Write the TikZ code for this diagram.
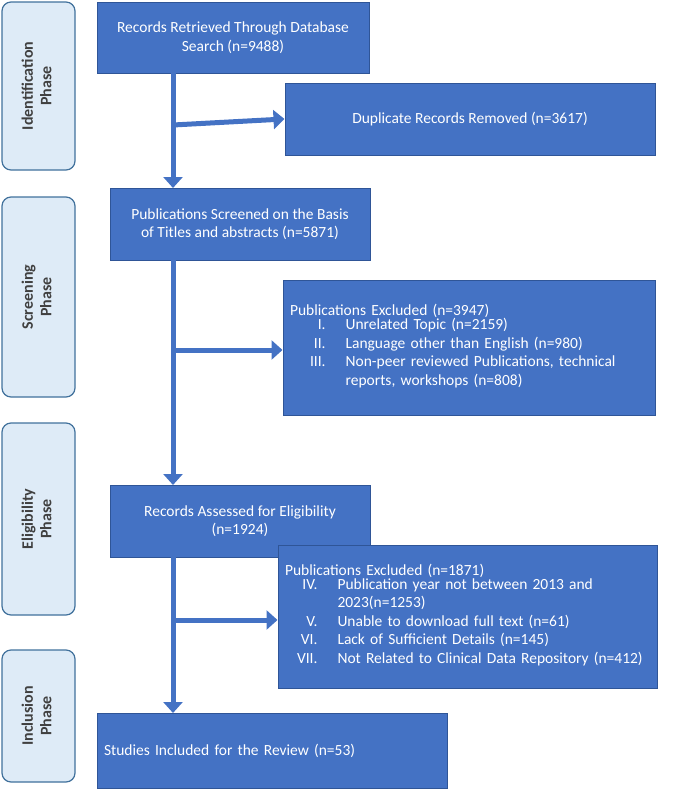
\documentclass[tikz,border=0pt]{standalone}
\usepackage{fontspec}
\setmainfont{Carlito}
\usetikzlibrary{arrows.meta}
\definecolor{bb}{HTML}{4472C4}
\definecolor{bd}{HTML}{2F5597}
\definecolor{pf}{HTML}{DEEBF7}
\definecolor{pd}{HTML}{41719C}
\begin{document}
\begin{tikzpicture}[x=1pt,y=-1pt,
 box/.style={draw=bd,line width=1pt,fill=bb,text=white,font=\fontsize{15.5}{18.5}\selectfont,align=center,inner sep=3pt},
 phase/.style={draw=pd,line width=1.2pt,fill=pf,rounded corners=9pt,font=\bfseries\fontsize{16}{18.5}\selectfont,text=black!75,align=center},
 arr/.style={draw=bb,line width=5pt,-{Triangle[length=11pt,width=19pt]}}]
\useasboundingbox (0,0) rectangle (685,790);
\node[phase,minimum width=73,minimum height=168] (p1) at (38.5,86) {\rotatebox{90}{\begin{tabular}{c}Identification\\Phase\end{tabular}}};
\node[phase,minimum width=73,minimum height=200] (p2) at (38.5,297) {\rotatebox{90}{\begin{tabular}{c}Screening\\Phase\end{tabular}}};
\node[phase,minimum width=73,minimum height=192] (p3) at (38.5,519) {\rotatebox{90}{\begin{tabular}{c}Eligibility\\Phase\end{tabular}}};
\node[phase,minimum width=73,minimum height=132] (p4) at (38.5,716) {\rotatebox{90}{\begin{tabular}{c}Inclusion\\Phase\end{tabular}}};

\node[box,minimum width=272,minimum height=71] (b1) at (233,37.5) {Records Retrieved Through Database\\Search (n=9488)};
\node[box,minimum width=370,minimum height=72] (b2) at (470,119) {Duplicate Records Removed (n=3617)};
\node[box,minimum width=260,minimum height=72] (b3) at (240,224) {Publications Screened on the Basis\\of Titles and abstracts (n=5871)};
\node[box,minimum width=372,minimum height=135,text width=358,align=left] (b4) at (469,347.5) {Publications Excluded (n=3947)\\[-2pt]
\begin{tabular}{@{\hspace{20pt}}r@{\hspace{20pt}}l@{}}
I. & Unrelated Topic (n=2159)\\
II. & Language other than English (n=980)\\
III. & Non-peer reviewed Publications, technical\\
 & reports, workshops (n=808)
\end{tabular}};
\node[box,minimum width=260,minimum height=72] (b5) at (240,521) {Records Assessed for Eligibility\\(n=1924)};
\node[box,minimum width=379,minimum height=143,text width=365,align=left] (b6) at (467.5,616.5) {Publications Excluded (n=1871)\\[-2pt]
\begin{tabular}{@{\hspace{12pt}}r@{\hspace{20pt}}l@{}}
IV. & Publication year not between 2013 and\\
 & 2023(n=1253)\\
V. & Unable to download full text (n=61)\\
VI. & Lack of Sufficient Details (n=145)\\
VII. & Not Related to Clinical Data Repository (n=412)
\end{tabular}};
\node[box,minimum width=350,minimum height=75,text width=336,align=left] (b7) at (272,750.5) {Studies Included for the Review (n=53)};

\coordinate (m1) at (173,125);
\coordinate (m2) at (173,350);
\coordinate (m3) at (173,620);
\draw[arr] (173,73) -- (173,188);
\draw[arr] (m1) -- (b2.west);
\draw[arr] (173,260) -- (173,485);
\draw[arr] (m2) -- (b4.west|-m2);
\draw[arr] (173,557) -- (173,713);
\draw[arr] (m3) -- (b6.west|-m3);
\end{tikzpicture}
\end{document}
